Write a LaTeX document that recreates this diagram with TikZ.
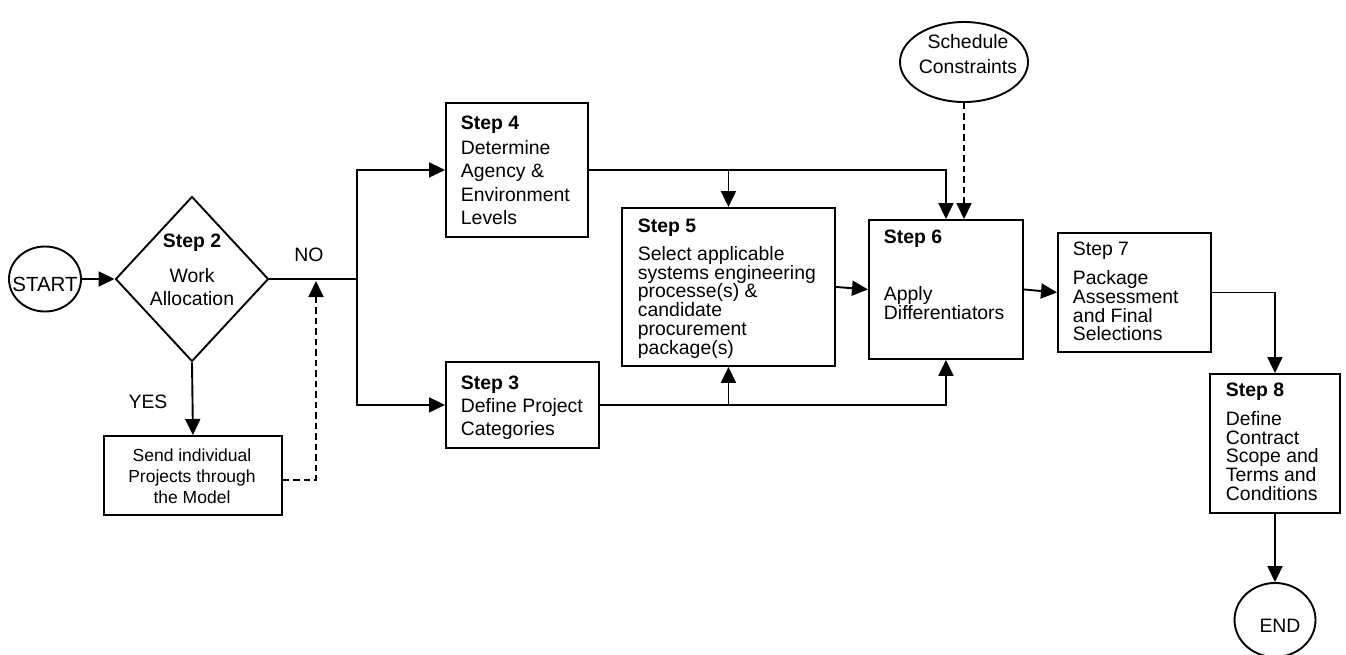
\documentclass[tikz,border=0pt]{standalone}
\usepackage{fontspec}
\setmainfont{Liberation Sans}
\usetikzlibrary{shapes.geometric,arrows.meta}
\begin{document}
\begin{tikzpicture}[x=1pt,y=-1pt,line width=1.9pt,
  arr/.style={-{Triangle[length=16pt,width=15pt]}},
  dsh/.style={dash pattern=on 6.5pt off 4pt},
  stepbox/.style={draw,rectangle,inner sep=0pt,anchor=north west},
  ell/.style={draw,ellipse,inner sep=0pt},
  txt/.style={inner sep=0pt,align=left,anchor=north west},
  lbl/.style={inner sep=0pt,font=\fontsize{19.4}{19}\selectfont}
]
\path[use as bounding box,fill=white] (0,0) rectangle (1346,654);

% shapes
\node[ell,minimum width=72pt,minimum height=65pt] (start) at (45,279) {};
\node[inner sep=0pt,font=\fontsize{20.5}{20}\selectfont] (startt) at (45,284) {START};

\node[draw,diamond,inner sep=0pt,minimum width=153pt,minimum height=165pt] (d) at (192,279) {};
\node[inner sep=0pt,align=center,anchor=north,font=\fontsize{19.4}{23}\selectfont] (dt) at (192,233) {\textbf{Step 2}\\[12pt]Work\\Allocation};

\node[stepbox,minimum width=178pt,minimum height=79pt] (send) at (103,435) {};
\node[inner sep=0pt,align=center,anchor=north,font=\fontsize{17.5}{21}\selectfont] (sendt) at (192,448) {Send individual\\Projects through\\the Model};

\node[stepbox,minimum width=142pt,minimum height=134pt] (s4) at (445,102) {};
\node[txt,font=\fontsize{19.4}{23.3}\selectfont] (s4t) at (460,115) {\textbf{Step 4}\\[1.7pt]Determine\\Agency \&\\Environment\\Levels};

\node[stepbox,minimum width=153pt,minimum height=86pt] (s3) at (445,361) {};
\node[txt,font=\fontsize{19.4}{23}\selectfont] (s3t) at (460,375) {\textbf{Step 3}\\Define Project\\Categories};

\node[stepbox,minimum width=213pt,minimum height=158pt] (s5) at (621,207) {};
\node[txt,font=\fontsize{19.4}{18.7}\selectfont] (s5t) at (637,218) {\textbf{Step 5}\\[9.3pt]Select applicable\\systems engineering\\processe(s) \&\\candidate\\procurement\\package(s)};

\node[stepbox,minimum width=154pt,minimum height=139pt] (s6) at (868,219) {};
\node[txt,font=\fontsize{19.4}{18.7}\selectfont] (s6t) at (883,229) {\textbf{Step 6}\\[38.3pt]Apply\\Differentiators};

\node[stepbox,minimum width=153pt,minimum height=119pt] (s7) at (1057,232) {};
\node[txt,font=\fontsize{19.4}{18.7}\selectfont] (s7t) at (1072,241) {Step 7\\[10.5pt]Package\\Assessment\\and Final\\Selections};

\node[stepbox,minimum width=130pt,minimum height=139pt] (s8) at (1209,373) {};
\node[txt,font=\fontsize{19.4}{18.7}\selectfont] (s8t) at (1225,382) {\textbf{Step 8}\\[10.3pt]Define\\Contract\\Scope and\\Terms and\\Conditions};

\node[ell,minimum width=128pt,minimum height=80pt] (sc) at (964,62) {};
\node[inner sep=0pt,align=center,anchor=north,font=\fontsize{19.4}{25}\selectfont] (sct) at (968,33) {Schedule\\Constraints};

\node[ell,minimum width=81pt,minimum height=74pt] (end) at (1275,620) {};
\node[lbl] (endt) at (1280,626) {END};

\node[lbl] (no) at (309,255) {NO};
\node[lbl] (yes) at (148,402) {YES};

% connectors
\coordinate (jn) at (357,279);
\coordinate (dn) at (316,281);
\draw[arr] (start.east) -- (d.west);
\draw (d.east) -- (jn);
\draw[arr] (jn) |- (s4.west);
\draw[arr] (jn) |- (s3.west);
\draw[arr] (d.south) -- (send.north);
\draw[arr,dsh] ([yshift=-4.5pt]send.east) -| (dn);
\draw[arr] (s4.east) -| (s6.north);
\draw[arr] (s4.east -| s5.north) -- (s5.north);
\draw[arr] (s3.east) -| (s6.south);
\draw[arr] (s3.east -| s5.south) -- (s5.south);
\draw[arr] (s5.east) -- (s6.west);
\draw[arr,dsh] (sc.south) -- (sc.south |- s6.north);
\draw[arr] (s6.east) -- (s7.west);
\draw[arr] (s7.east) -| (s8.north);
\draw[arr] (s8.south) -- (end.north);
\end{tikzpicture}
\end{document}
